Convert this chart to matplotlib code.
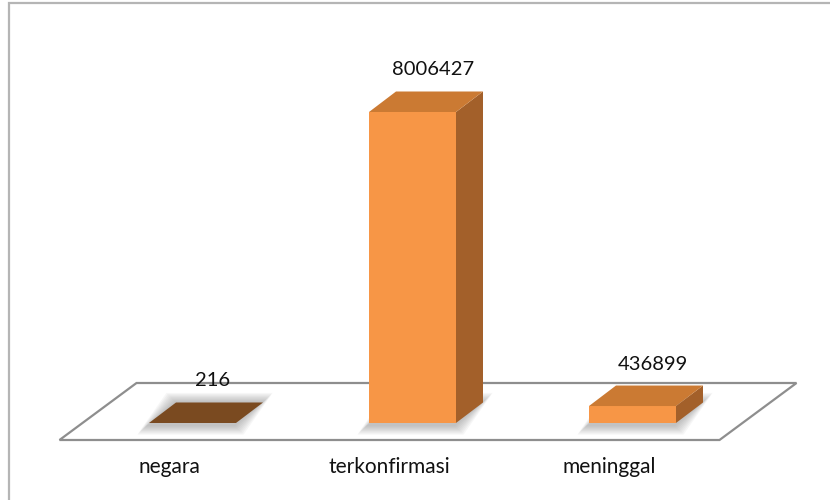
import matplotlib
matplotlib.use('Agg')
import matplotlib.pyplot as plt
from matplotlib.patches import Polygon, Rectangle
from matplotlib.transforms import offset_copy

categories = ['negara', 'terkonfirmasi', 'meninggal']
values = [216, 8006427, 436899]
labels = ['216', '8006427', '436899']

W, H = 830, 500
fig = plt.figure(figsize=(W / 100, H / 100), dpi=100)
ax = fig.add_axes([0, 0, 1, 1])
ax.set_axis_off()

# layout (pixels)
vmax = max(values)
base_px, top_px, first_px, step_px = 423, 112, 192.5, 220
py = vmax / (base_px - top_px)   # value units per pixel
px = 1.0 / step_px               # category units per pixel
ax.set_xlim(-first_px * px, (W - first_px) * px)
ax.set_ylim(-(H - base_px) * py, base_px * py)

bdx, bdy = 27 * px, 20.5 * py     # bar depth
ffx, ffy = 23 * px, 17 * py       # floor in front of bars
fbx, fby = 54 * px, 40 * py       # floor behind bar fronts

front_c = '#F79646'
top_c = '#CB7A33'
side_c = '#A3602A'
top_colors = ['#7A4A20', top_c, top_c]

n = len(categories)
xs = list(range(n))

# floor
floor = Polygon([(-0.5 - ffx, -ffy), (n - 0.5 - ffx, -ffy),
                 (n - 0.5 + fbx, fby), (-0.5 + fbx, fby)],
                closed=True, facecolor='white', edgecolor='#8E8E8E',
                linewidth=1.6, zorder=1)
ax.add_patch(floor)

bars = ax.bar(xs, values, width=87 / step_px, color=front_c, zorder=4,
              linewidth=0)

for i, b in enumerate(bars):
    x0 = b.get_x()
    x1 = x0 + b.get_width()
    h = b.get_height()
    # soft shadow
    for k in range(1, 9):
        e = k * 1.2
        s = 2.0
        shp = Polygon([(x0 - (e + s) * px, -(e + s) * py),
                       (x1 + (e - s) * px, -(e + s) * py),
                       (x1 + bdx + e * px, bdy + e * py),
                       (x0 + bdx - e * px, bdy + e * py)],
                      closed=True, facecolor='#555555', edgecolor='none',
                      alpha=0.05, zorder=2)
        ax.add_patch(shp)
    side = Polygon([(x1, 0), (x1 + bdx, bdy), (x1 + bdx, h + bdy), (x1, h)],
                   closed=True, facecolor=side_c, edgecolor='none', zorder=3)
    ax.add_patch(side)
    top = Polygon([(x0, h), (x1, h), (x1 + bdx, h + bdy), (x0 + bdx, h + bdy)],
                  closed=True, facecolor=top_colors[i], edgecolor='none', zorder=5)
    ax.add_patch(top)
    # value label
    tr = offset_copy(ax.transData, fig=fig, x=0, y=13, units='dots')
    ax.text(b.get_x() + b.get_width() / 2 + 0.75 * bdx, h + bdy, labels[i],
            transform=tr, ha='center', va='bottom', fontsize=14.5,
            family='Lato', color='#111111', zorder=6)
    # category label
    tr2 = offset_copy(ax.transData, fig=fig, x=0, y=-27, units='dots')
    ax.text(b.get_x() + b.get_width() / 2 - ffx, -ffy, categories[i],
            transform=tr2, ha='center', va='center', fontsize=15,
            family='Lato', color='#111111', zorder=6)

# outer chart frame
frame = Rectangle((9 / W, -0.05), 1.2, 1 - 3 / H + 0.05, transform=ax.transAxes,
                  facecolor='none', edgecolor='#B5B5B5', linewidth=1.6, zorder=0)
ax.add_patch(frame)

fig.savefig('out.png', dpi=100)
